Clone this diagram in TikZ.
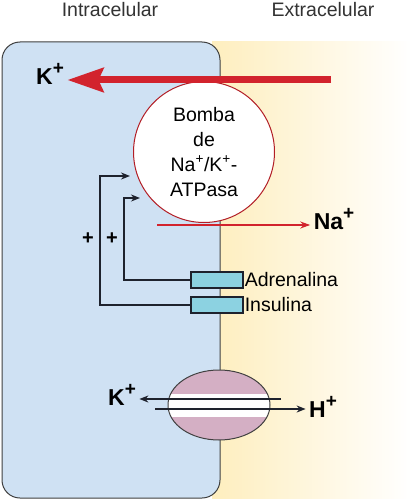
\documentclass[tikz,border=0pt]{standalone}
\usepackage{fontspec}
\setmainfont{Liberation Sans}
\usepackage{tikz}
\usetikzlibrary{arrows.meta,positioning,shapes.geometric,calc}
\definecolor{cellblue}{RGB}{207,225,243}
\definecolor{extyellow}{RGB}{254,238,190}
\definecolor{pumpred}{RGB}{210,35,45}
\definecolor{recepcyan}{RGB}{140,210,225}
\definecolor{exchpink}{RGB}{212,175,196}
\definecolor{darkline}{RGB}{30,34,45}
\newcommand{\ionplus}{\raisebox{0.42em}{\fontsize{19}{19}\selectfont +}}
\tikzset{
  region/.style={font=\fontsize{19.5}{22}\selectfont, text=black!80},
  ion/.style={font=\fontsize{23}{26}\selectfont\bfseries},
  lbl/.style={font=\fontsize{19.5}{22}\selectfont, anchor=west, inner sep=1pt},
  receptor/.style={draw=darkline, fill=recepcyan, line width=1.2pt, minimum width=52pt, minimum height=16pt, inner sep=0pt},
  signal/.style={draw=darkline, line width=1.8pt, -{Stealth[length=9pt,width=7pt]}},
  exch/.style={draw=darkline, line width=1.5pt, -{Stealth[length=9pt,width=7pt]}}
}
\begin{document}
\begin{tikzpicture}[x=1pt,y=-1pt]
    \useasboundingbox (0,0) rectangle (411,500);
    \fill[white] (0,0) rectangle (411,500);

    % extracellular side
    \shade[left color=extyellow, right color=white] (212,42) rectangle (411,498);
    \node[region] (intra) at (110,10) {Intracelular};
    \node[region] (extra) at (323,10) {Extracelular};

    % cell
    \draw[fill=cellblue, draw=black!75, line width=1pt, rounded corners=18pt] (2,42) rectangle (220,498);

    % pump
    \node[circle, draw=pumpred!85!black, fill=white, line width=1pt, minimum size=141pt, inner sep=0pt, align=center,
          font=\fontsize{19.5}{25}\selectfont] (pump) at (204,152) {Bomba\\de\\Na\textsuperscript{+}/K\textsuperscript{+}-\\ATPasa};
    \node[ion] (kin) at (50,74) {K\ionplus};
    \coordinate (kstart) at (331,80);
    \draw[pumpred, line width=7pt, -{Stealth[length=36pt,width=24pt,inset=5pt]}] (kstart) -- (kin.east |- kstart);

    \node[ion] (naout) at (334,219) {Na\ionplus};
    \coordinate (nastart) at (157,225);
    \draw[pumpred, line width=2pt, -{Stealth[length=10pt,width=7pt]}] (nastart) -- (naout.west |- nastart);

    % receptors
    \node[receptor] (adr) at (217,280) {};
    \node[receptor] (ins) at (217,305) {};
    \node[lbl] (adrtxt) at (adr.east) {Adrenalina};
    \node[lbl] (instxt) at (ins.east) {Insulina};

    \coordinate (tipins) at (130,176);
    \coordinate (tipadr) at (140,198);
    \draw[signal] (ins.west) -| (100,176) -- (tipins);
    \draw[signal] (adr.west) -| (124,198) -- (tipadr);
    \node[font=\fontsize{20}{22}\selectfont\bfseries] (plusins) at (88,239) {+};
    \node[font=\fontsize{20}{22}\selectfont\bfseries] (plusadr) at (112,239) {+};

    % K/H exchanger
    \node[ellipse, draw=black!75, fill=exchpink, line width=1pt, minimum width=102pt, minimum height=70pt,
          path picture={\fill[white] ([yshift=-11.5pt]path picture bounding box.west) rectangle ([yshift=11.5pt]path picture bounding box.east);}] (exch) at (219,405) {};
    \node[ion] (kex) at (122,395) {K\ionplus};
    \node[ion] (hex) at (323,407) {H\ionplus};
    \coordinate (kfrom) at (281,399);
    \coordinate (hfrom) at (155,409);
    \draw[exch] (kfrom) -- (kex.east |- kfrom);
    \draw[exch] (hfrom) -- (hex.west |- hfrom);
\end{tikzpicture}
\end{document}
